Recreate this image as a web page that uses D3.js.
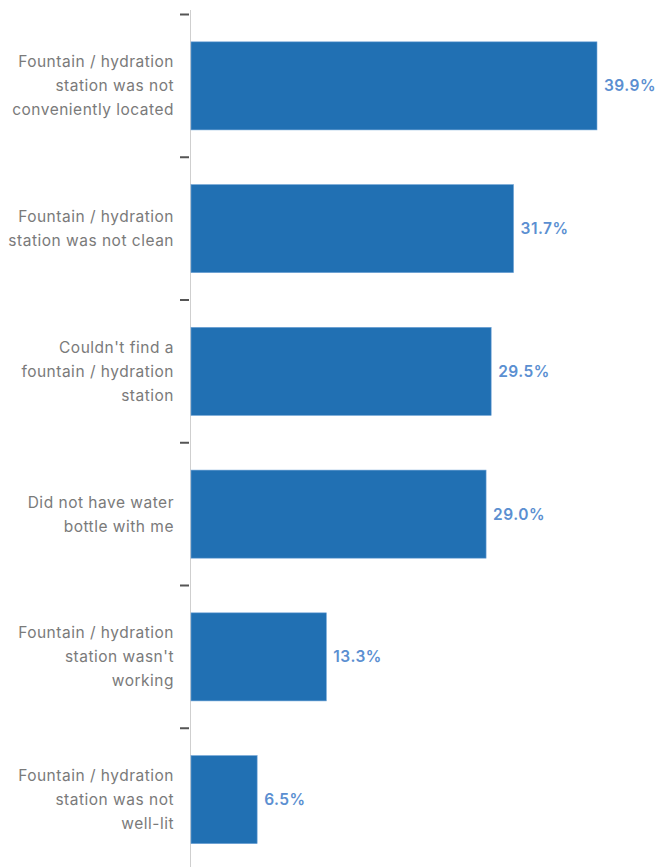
<!DOCTYPE html>
<html>
<head>
<meta charset="utf-8">
<script src="https://cdn.jsdelivr.net/npm/d3@7"></script>
<style>
  body { margin: 0; background: #fff; }
  svg { display: block; font-family: Inter, "Noto Sans", sans-serif; }
</style>
</head>
<body>
<svg id="chart" width="657" height="867"></svg>
<script>
const categories = [
  ["Fountain / hydration", "station was not", "conveniently located"],
  ["Fountain / hydration", "station was not clean"],
  ["Couldn't find a", "fountain / hydration", "station"],
  ["Did not have water", "bottle with me"],
  ["Fountain / hydration", "station wasn't", "working"],
  ["Fountain / hydration", "station was not", "well-lit"]
];
const values = [39.9, 31.7, 29.5, 29.0, 13.3, 6.5];

const svg = d3.select("#chart");
const idx = d3.range(values.length);

const x = d3.scaleLinear().domain([0, 40]).range([191, 598]);
const y = d3.scaleBand()
  .domain(idx)
  .range([14.5, 871])
  .paddingInner(0.383)
  .paddingOuter(0.1915);

const step = y.step();

// axis line
svg.append("line")
  .attr("x1", 190.5).attr("x2", 190.5)
  .attr("y1", 10).attr("y2", 867)
  .attr("stroke", "#cfcfcf")
  .attr("stroke-width", 1);

// tick marks at band boundaries
svg.append("g")
  .selectAll("line")
  .data(idx)
  .join("line")
  .attr("x1", 180).attr("x2", 189)
  .attr("y1", (d) => y(d) - y.paddingOuter() * step)
  .attr("y2", (d) => y(d) - y.paddingOuter() * step)
  .attr("stroke", "#555")
  .attr("stroke-width", 2);

// bars
svg.append("g")
  .selectAll("rect")
  .data(idx)
  .join("rect")
  .attr("x", x(0))
  .attr("y", (d) => y(d))
  .attr("width", (d) => x(values[d]) - x(0))
  .attr("height", y.bandwidth())
  .attr("fill", "#2170b3")
  .attr("stroke", "#6fa3d6")
  .attr("stroke-width", 0.6);

// value labels
svg.append("g")
  .selectAll("text")
  .data(idx)
  .join("text")
  .attr("x", (d) => x(values[d]) + 7)
  .attr("y", (d) => y(d) + y.bandwidth() / 2)
  .attr("dy", "0.35em")
  .attr("fill", "#5b8fd1")
  .attr("font-size", 15.5)
  .attr("font-weight", 600)
  .attr("letter-spacing", 0.5)
  .text((d) => values[d].toFixed(1) + "%");

// category labels
const lineH = 24;
svg.append("g")
  .selectAll("text")
  .data(idx)
  .join("text")
  .attr("text-anchor", "end")
  .attr("fill", "#7a7a7a")
  .attr("font-size", 15.5)
  .attr("letter-spacing", 0.5)
  .attr("y", (d) => y(d) + y.bandwidth() / 2 - (categories[d].length - 1) * lineH / 2)
  .each(function (d) {
    const t = d3.select(this);
    const y0 = +t.attr("y");
    categories[d].forEach((line, i) => {
      t.append("tspan")
        .attr("x", 174)
        .attr("y", y0 + i * lineH)
        .attr("dy", "0.35em")
        .text(line);
    });
  });
</script>
</body>
</html>
